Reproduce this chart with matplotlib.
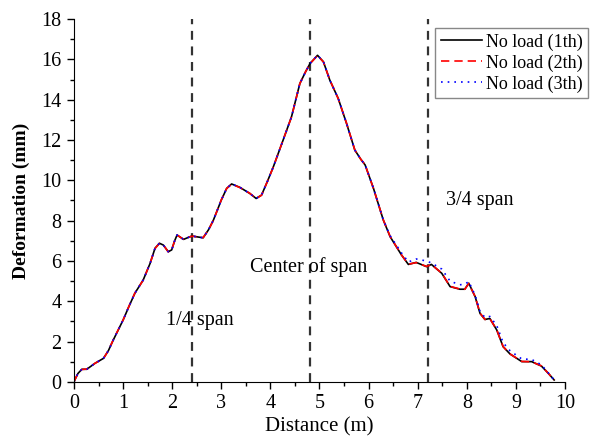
import matplotlib
matplotlib.use("Agg")
import matplotlib.pyplot as plt
from matplotlib.ticker import MultipleLocator

plt.rcParams['font.family'] = ['Liberation Serif', 'DejaVu Serif']

# distance along the span (m)
dist = [0.0, 0.02, 0.08, 0.16, 0.26, 0.43, 0.6, 0.7, 0.8, 1.0, 1.12, 1.24, 1.41, 1.55,
        1.65, 1.74, 1.82, 1.92, 1.99, 2.05, 2.1, 2.23, 2.4, 2.5, 2.63, 2.74, 2.84, 3.0,
        3.11, 3.21, 3.38, 3.58, 3.71, 3.82, 3.94, 4.06, 4.26, 4.43, 4.6, 4.72, 4.81,
        4.96, 5.08, 5.21, 5.38, 5.55, 5.72, 5.84, 5.93, 6.1, 6.3, 6.44, 6.67, 6.81,
        6.97, 7.18, 7.28, 7.49, 7.66, 7.86, 7.96, 8.04, 8.17, 8.27, 8.37, 8.47, 8.61,
        8.74, 8.88, 9.12, 9.32, 9.52, 9.66, 9.78]

# deformation (mm) for each measurement
load1 = [0.0, 0.12, 0.42, 0.63, 0.63, 0.93, 1.17, 1.55, 2.08, 3.07, 3.75, 4.4, 5.06,
         5.88, 6.63, 6.88, 6.79, 6.46, 6.55, 7.0, 7.29, 7.07, 7.24, 7.2, 7.15, 7.55,
         8.03, 9.02, 9.6, 9.82, 9.65, 9.35, 9.1, 9.27, 9.95, 10.67, 12.0, 13.15, 14.8,
         15.4, 15.8, 16.2, 15.88, 14.97, 14.07, 12.83, 11.5, 11.05, 10.76, 9.6, 8.03,
         7.2, 6.3, 5.83, 5.93, 5.72, 5.83, 5.39, 4.73, 4.6, 4.6, 4.9, 4.23, 3.4, 3.1,
         3.15, 2.58, 1.75, 1.39, 1.01, 1.01, 0.79, 0.43, 0.1]
load2 = [0.0, 0.12, 0.41, 0.62, 0.64, 0.93, 1.16, 1.56, 2.09, 3.07, 3.76, 4.41, 5.05,
         5.89, 6.62, 6.87, 6.8, 6.45, 6.56, 7.0, 7.28, 7.08, 7.23, 7.2, 7.16, 7.54,
         8.02, 9.03, 9.6, 9.81, 9.64, 9.36, 9.1, 9.26, 9.95, 10.66, 12.01, 13.14, 14.8,
         15.4, 15.79, 16.19, 15.87, 14.98, 14.06, 12.84, 11.5, 11.05, 10.77, 9.59, 8.04,
         7.21, 6.3, 5.84, 5.92, 5.73, 5.82, 5.4, 4.74, 4.61, 4.6, 4.88, 4.24, 3.41, 3.1,
         3.14, 2.59, 1.76, 1.39, 1.02, 1.0, 0.8, 0.43, 0.1]
load3 = [0.0, 0.12, 0.42, 0.63, 0.63, 0.93, 1.17, 1.55, 2.08, 3.07, 3.75, 4.4, 5.06,
         5.88, 6.63, 6.88, 6.79, 6.46, 6.55, 7.0, 7.29, 7.07, 7.24, 7.2, 7.15, 7.55,
         8.03, 9.02, 9.6, 9.82, 9.65, 9.35, 9.1, 9.27, 9.95, 10.67, 12.0, 13.15, 14.8,
         15.4, 15.8, 16.2, 15.88, 14.97, 14.07, 12.83, 11.5, 11.05, 10.76, 9.6, 8.03,
         7.25, 6.4, 5.95, 6.1, 6.0, 5.9, 5.6, 5.0, 4.82, 4.85, 4.98, 4.3, 3.5, 3.2,
         3.25, 2.8, 1.95, 1.55, 1.14, 1.12, 0.85, 0.45, 0.1]

spans = [2.4, 4.8, 7.2]

fig = plt.figure(figsize=(5.9, 4.37), dpi=100)
ax = fig.add_axes([0.1254, 0.1259, 0.8322, 0.8306])

for xs in spans:
    ax.axvline(xs, color='#333333', linestyle=(0, (4, 3)), linewidth=1.6, zorder=1)

ax.plot(dist, load1, 'k-', linewidth=1.2, solid_joinstyle='round', label='No load (1th)')
ax.plot(dist, load2, color='red', linestyle=(0, (5, 3)), linewidth=1.2, label='No load (2th)')
ax.plot(dist, load3, color='blue', linestyle=(0, (1, 3)), linewidth=1.2, label='No load (3th)')

ax.set_xlim(0, 10)
ax.set_ylim(0, 18)
ax.xaxis.set_major_locator(MultipleLocator(1))
ax.xaxis.set_minor_locator(MultipleLocator(0.5))
ax.yaxis.set_major_locator(MultipleLocator(2))
ax.yaxis.set_minor_locator(MultipleLocator(1))
ax.tick_params(which='major', direction='out', length=5, width=1, labelsize=14.5, pad=4)
ax.tick_params(which='minor', direction='out', length=3, width=1)
ax.spines['top'].set_visible(False)
ax.spines['right'].set_visible(False)

ax.set_xlabel('Distance (m)', fontsize=15, labelpad=3)
ax.set_ylabel('Deformation (mm)', fontsize=14, fontweight='bold', labelpad=8)

ax.text(2.57, 3.05, '1/4 span', fontsize=14.5, ha='center', va='center')
ax.text(4.77, 5.7, 'Center of span', fontsize=14.5, ha='center', va='center')
ax.text(8.27, 9.0, '3/4 span', fontsize=14.5, ha='center', va='center')

leg = ax.legend(loc='upper right', bbox_to_anchor=(1.047, 0.975), fontsize=13,
                fancybox=False, framealpha=1, edgecolor='#888888',
                handlelength=2.3, handletextpad=0.2, borderpad=0.3, labelspacing=0.2,
                borderaxespad=0)
leg.get_frame().set_linewidth(1.0)

fig.savefig('out.png', dpi=100)
